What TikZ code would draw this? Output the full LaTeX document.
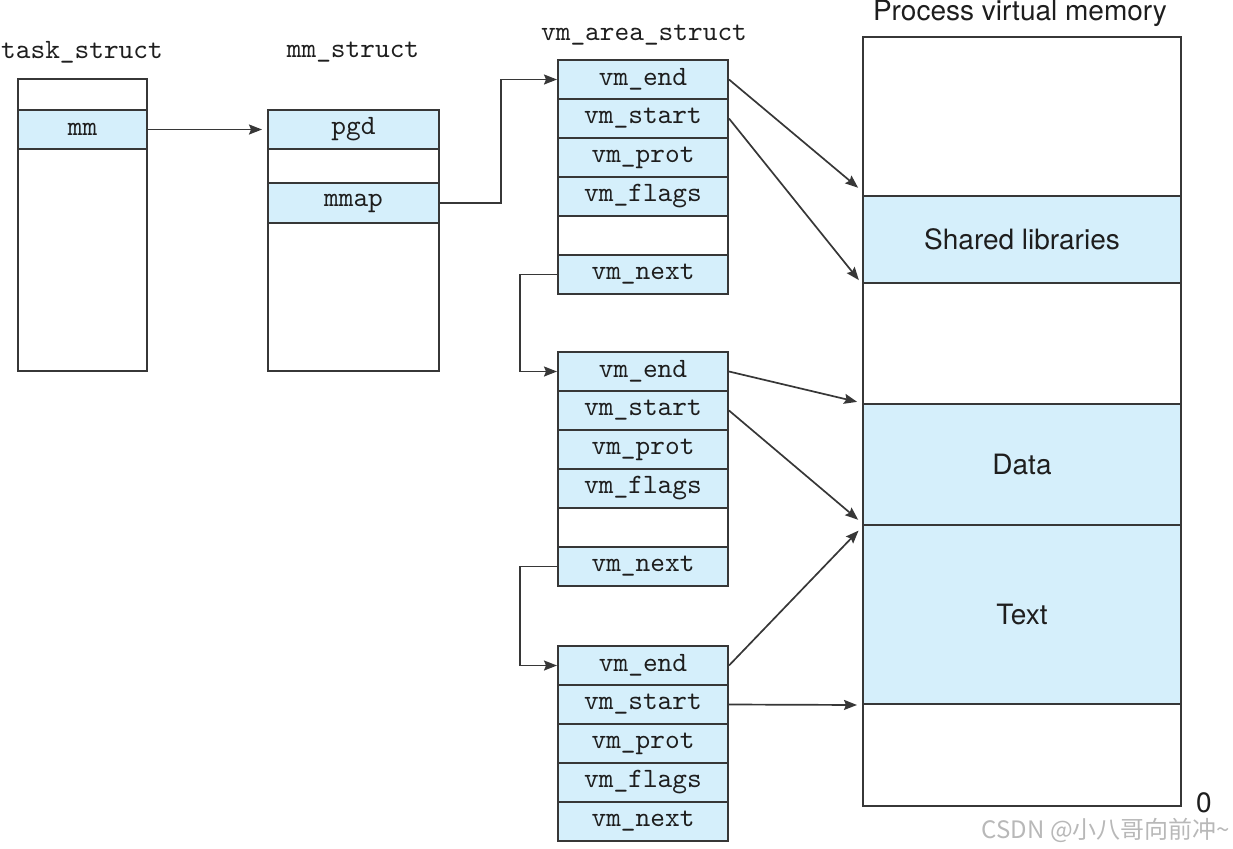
\documentclass[tikz,border=0pt]{standalone}
\usepackage{fontspec}
\newfontfamily\hv{TeX Gyre Heros}
\newfontfamily\cjk{Noto Sans CJK SC}
\newfontfamily\lmtt{lmmono10-regular.otf}
\usetikzlibrary{arrows.meta}
\definecolor{fieldblue}{RGB}{213,239,251}
\definecolor{linegray}{RGB}{55,55,55}
\definecolor{txt}{RGB}{30,30,30}
\begin{document}
\begin{tikzpicture}[x=0.5pt,y=-0.5pt,
  ttf/.style={font=\lmtt\fontsize{14}{16}\selectfont, text=txt},
  hvf/.style={font=\hv\fontsize{14}{16}\selectfont, text=txt},
  box/.style={draw=linegray, line width=1pt, fill=white, inner sep=0pt},
  field/.style={box, fill=fieldblue, minimum height=19.5pt, ttf},
  vmw/.style={minimum width=85pt},
  conn/.style={draw=linegray, line width=0.85pt},
  arr/.style={conn, -{Stealth[length=6.5pt,width=5pt,inset=1pt]}, shorten >=2.5pt}
]
\useasboundingbox (0,0) rectangle (1233,848);

% titles
\node[ttf] (lts) at (82,52) {task\_struct};
\node[ttf] (lmm) at (353,52) {mm\_struct};
\node[ttf] (lvm) at (644,35) {vm\_area\_struct};
\node[hvf] (lpv) at (1020,13) {Process virtual memory};

% task_struct
\node[box, minimum width=64.5pt, minimum height=146pt] (ts) at (82.5,225) {};
\node[field, minimum width=64.5pt] (tsmm) at (82.5,129.5) {mm};

% mm_struct
\node[box, minimum width=85.5pt, minimum height=130.5pt] (mms) at (353.5,240.5) {};
\node[field, minimum width=85.5pt] (pgd) at (353.5,129.5) {pgd};
\node[field, minimum width=85.5pt, minimum height=20pt] (mmap) at (353.5,203) {mmap};

% vm_area_struct 1
\node[field, vmw] (aend) at (643,79.5) {vm\_end};
\node[field, vmw] (astart) at (643,118.5) {vm\_start};
\node[field, vmw] (aprot) at (643,157.5) {vm\_prot};
\node[field, vmw] (aflags) at (643,196.5) {vm\_flags};
\node[box, vmw, minimum height=19.5pt] (ablank) at (643,235.5) {};
\node[field, vmw] (anext) at (643,274.5) {vm\_next};

% vm_area_struct 2
\node[field, vmw] (bend) at (643,371.5) {vm\_end};
\node[field, vmw] (bstart) at (643,410.5) {vm\_start};
\node[field, vmw] (bprot) at (643,449.5) {vm\_prot};
\node[field, vmw] (bflags) at (643,488.5) {vm\_flags};
\node[box, vmw, minimum height=19.5pt] (bblank) at (643,527.5) {};
\node[field, vmw] (bnext) at (643,566.5) {vm\_next};

% vm_area_struct 3
\node[field, vmw] (cend) at (643,665.5) {vm\_end};
\node[field, vmw] (cstart) at (643,704.5) {vm\_start};
\node[field, vmw] (cprot) at (643,743.5) {vm\_prot};
\node[field, vmw] (cflags) at (643,782.5) {vm\_flags};
\node[field, vmw] (cnext) at (643,821.5) {vm\_next};

% process virtual memory
\node[box, minimum width=159pt, minimum height=384.5pt] (mem) at (1022,421.5) {};
\node[box, fill=fieldblue, minimum width=159pt, minimum height=43.5pt, hvf] (shl) at (1022,239.5) {Shared libraries};
\node[box, fill=fieldblue, minimum width=159pt, minimum height=60.5pt, hvf] (data) at (1022,464.5) {Data};
\node[box, fill=fieldblue, minimum width=159pt, minimum height=89.5pt, hvf] (text) at (1022,614.5) {Text};
\node[hvf, inner sep=1pt] (zero) at (1204,803) {0};

% connectors
\draw[arr] (tsmm.east) -- (pgd.west);
\draw[arr, shorten >=0pt] (mmap.east) -- ++(61,0) |- (aend.west);
\draw[arr, shorten >=0pt] (anext.west) -- ++(-37,0) |- (bend.west);
\draw[arr, shorten >=0pt] (bnext.west) -- ++(-37,0) |- (cend.west);

\draw[arr] (aend.east) -- ([yshift=2pt]shl.north west);
\draw[arr] (astart.east) -- (shl.south west);
\draw[arr] (bend.east) -- (data.north west);
\draw[arr] (bstart.east) -- ([yshift=1.5pt]data.south west);
\draw[arr] (cend.east) -- ([yshift=-1.5pt]text.north west);
\draw[arr] (cstart.east) -- (text.south west);

% watermark
\node[font=\cjk\fontsize{12}{14}\selectfont, text=black!28, inner sep=1pt] (wm) at (1106,830) {CSDN @小八哥向前冲\textasciitilde};
\end{tikzpicture}
\end{document}
